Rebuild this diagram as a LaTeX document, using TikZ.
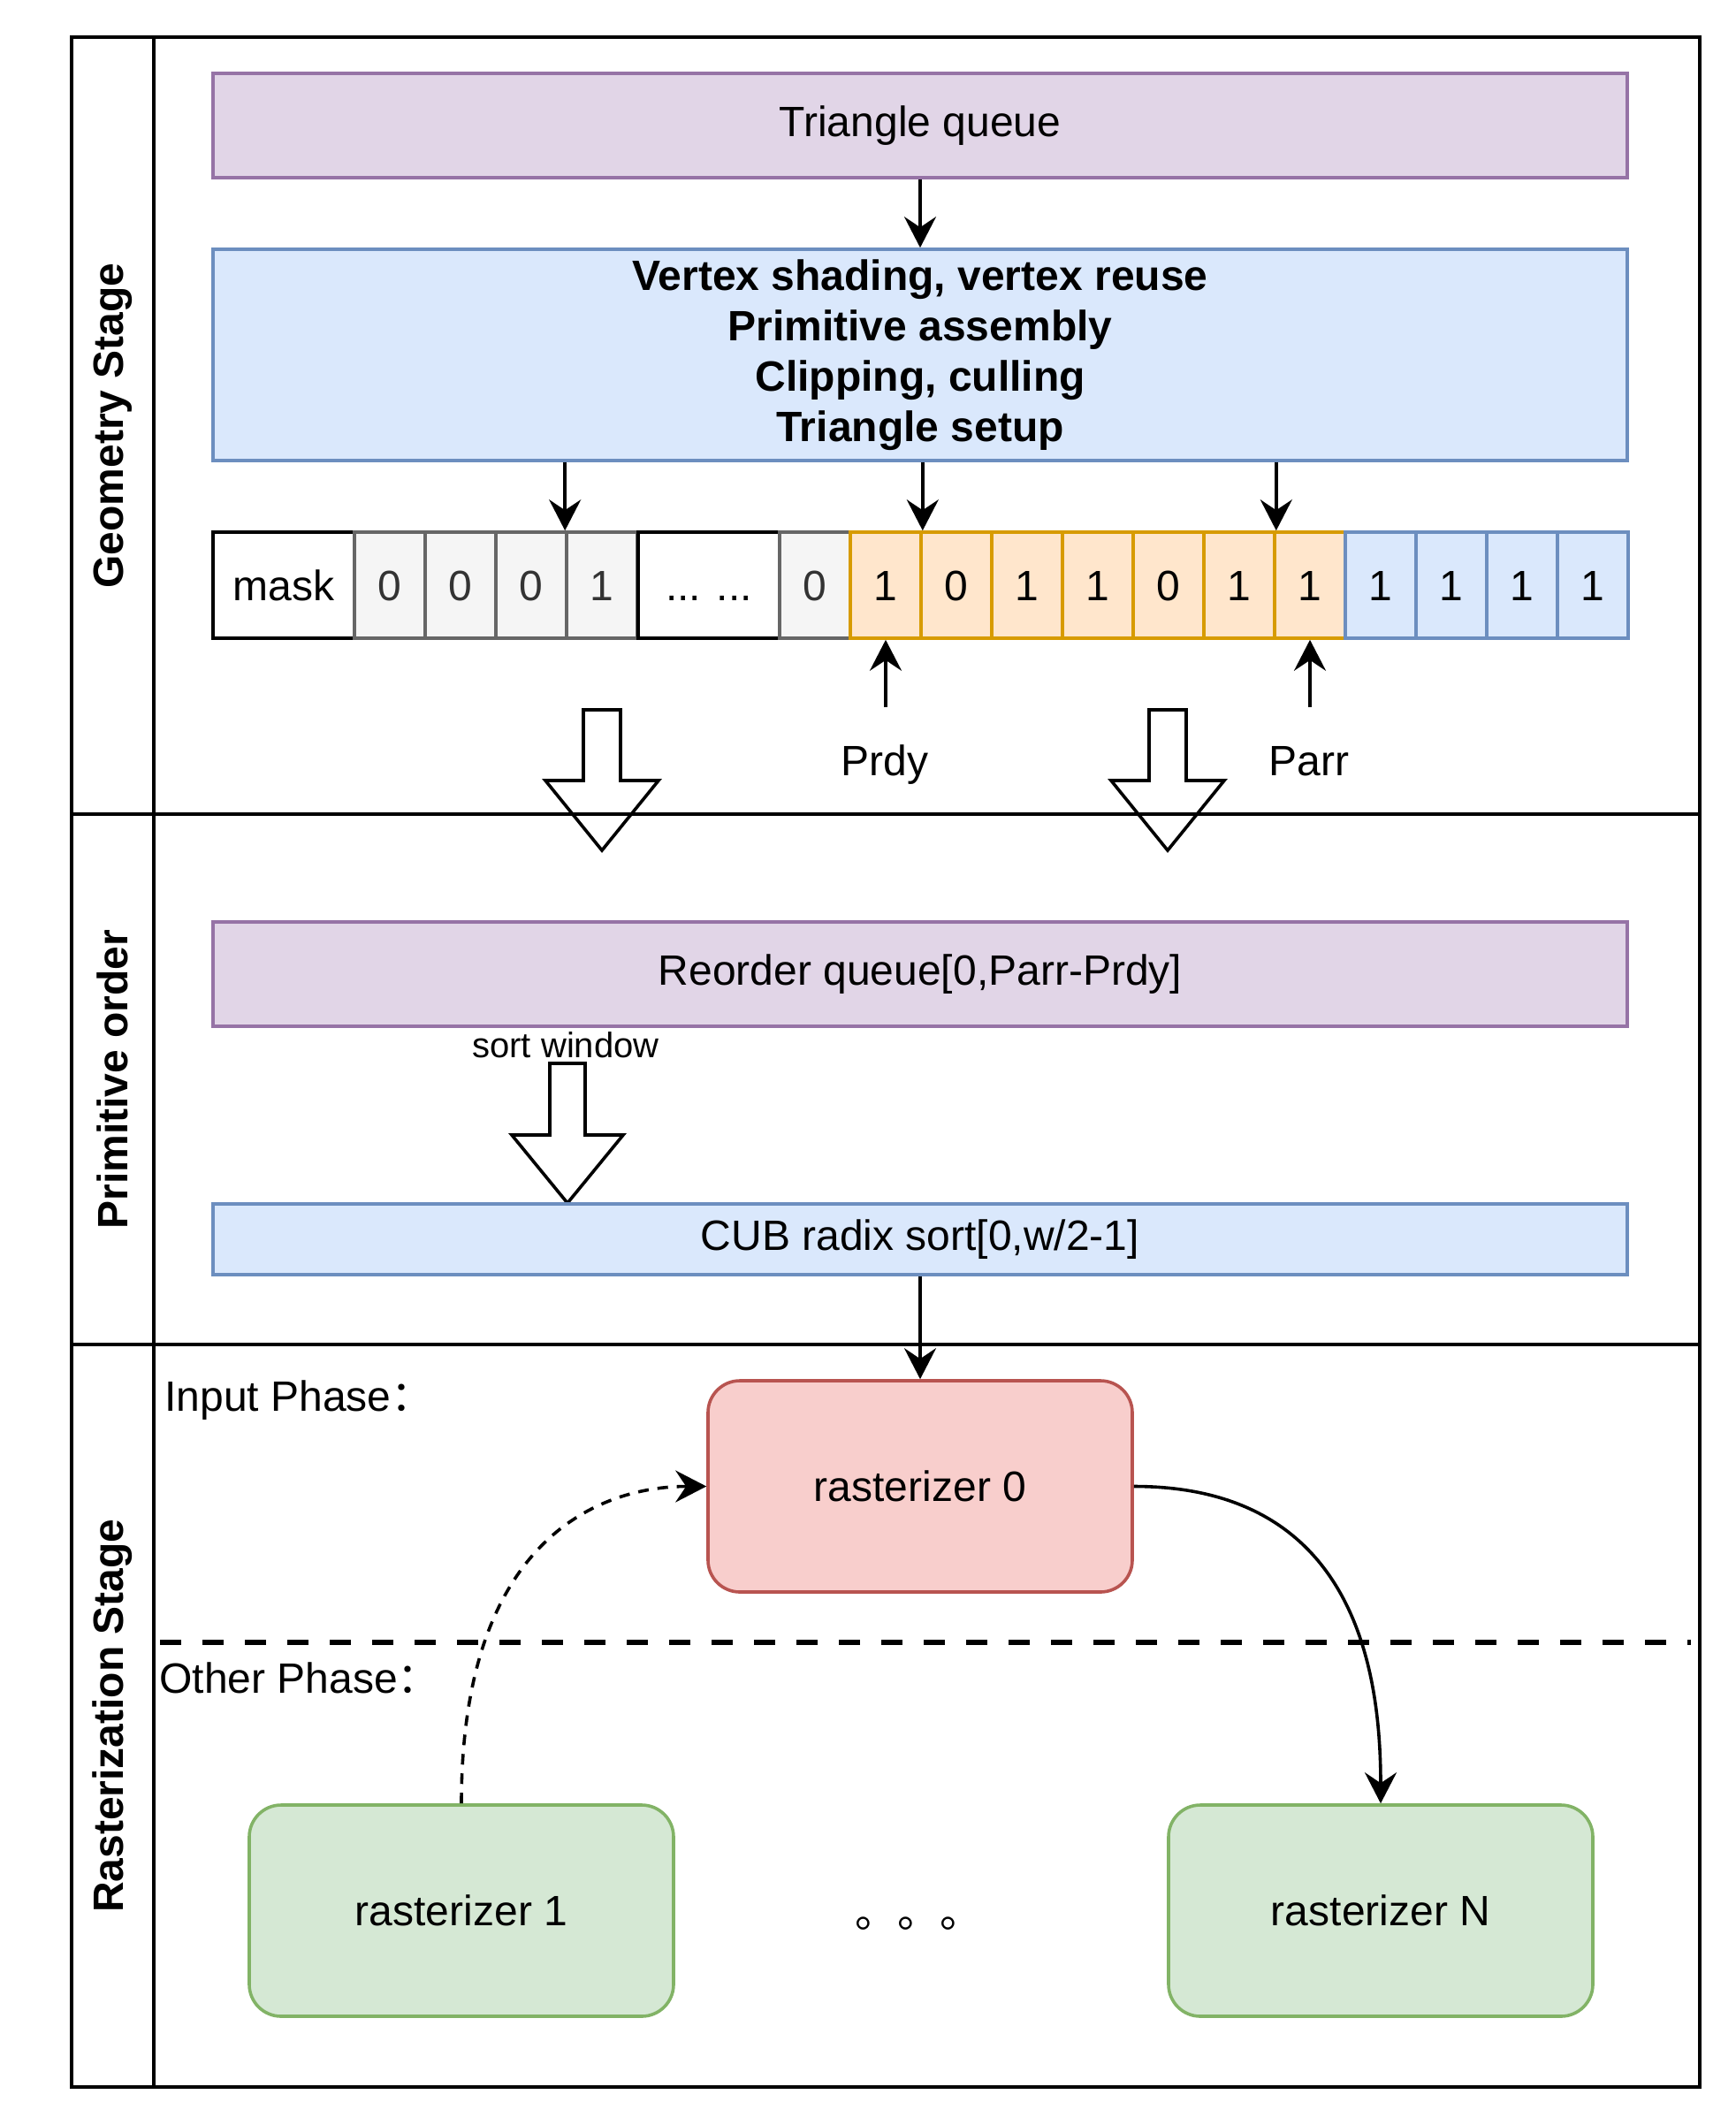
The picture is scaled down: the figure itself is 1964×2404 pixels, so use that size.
\documentclass[tikz,border=0pt]{standalone}
\usepackage{fontspec}
\setmainfont{Liberation Sans}
\newfontfamily\cjk{Noto Sans CJK SC}
\usetikzlibrary{arrows.meta,calc}

\definecolor{purpleFill}{HTML}{E1D5E7}
\definecolor{purpleLine}{HTML}{9673A6}
\definecolor{blueFill}{HTML}{DAE8FC}
\definecolor{blueLine}{HTML}{6C8EBF}
\definecolor{orangeFill}{HTML}{FFE6CC}
\definecolor{orangeLine}{HTML}{D79B00}
\definecolor{greyFill}{HTML}{F5F5F5}
\definecolor{greyLine}{HTML}{666666}
\definecolor{greyText}{HTML}{333333}
\definecolor{redFill}{HTML}{F8CECC}
\definecolor{redLine}{HTML}{B85450}
\definecolor{greenFill}{HTML}{D5E8D4}
\definecolor{greenLine}{HTML}{82B366}

\tikzset{
  every node/.style={inner sep=0pt, font=\fontsize{24}{28.8}\selectfont},
  frame/.style={line width=1.8pt},
  lanelabel/.style={rotate=90, font=\fontsize{24}{28.8}\selectfont\bfseries},
  queuebox/.style={draw=purpleLine, fill=purpleFill, line width=1.8pt, minimum width=800pt, minimum height=59pt},
  stagebox/.style={draw=blueLine, fill=blueFill, line width=1.8pt, minimum width=800pt, align=center},
  cell/.style={line width=1.8pt, minimum width=40pt, minimum height=60pt, text height=17.2pt, text depth=0pt},
  plaincell/.style={cell, draw=black, fill=white},
  greycell/.style={cell, draw=greyLine, fill=greyFill, text=greyText},
  orangecell/.style={cell, draw=orangeLine, fill=orangeFill},
  bluecell/.style={cell, draw=blueLine, fill=blueFill},
  rastbox/.style={line width=1.8pt, rounded corners=18pt, minimum width=240pt, minimum height=119.5pt},
  link/.style={line width=1.8pt, -{Stealth[length=17.5pt, width=18pt, inset=6pt]}},
  hollow/.style={line width=1.8pt},
}

\begin{document}
\begin{tikzpicture}[x=0.5pt, y=-0.5pt]
  \useasboundingbox (0,0) rectangle (1964,2404);
  % lanes
  \draw[frame] (81,42) rectangle (1923,2361);
  \draw[frame] (174,42) -- (174,2361);
  \draw[frame] (81,921) -- (1923,921);
  \draw[frame] (81,1521) -- (1923,1521);
  \node[lanelabel] at (127.5,481.5) {Geometry Stage};
  \node[lanelabel] at (127.5,1221) {Primitive order};
  \node[lanelabel] at (127.5,1941) {Rasterization Stage};

  % geometry stage
  \node[queuebox] (tq) at (1041,142) {Triangle queue};
  \node[stagebox, minimum height=119.5pt, font=\fontsize{24}{28.6}\selectfont\bfseries] (vs) at (1041,401.5)
    {Vertex shading, vertex reuse\\Primitive assembly\\Clipping, culling\\Triangle setup};
  \draw[link] (tq) -- (vs);

  % mask row
  \node[plaincell, minimum width=80pt] (mask) at (321,662) {mask};
  \foreach \v [count=\i] in {0,0,0,1}
    \node[greycell] (g\i) at (361+80*\i,662) {\v};
  \node[plaincell, minimum width=80pt] (dots) at (802,662) {... ...};
  \node[greycell] (g5) at (922,662) {0};
  \foreach \v [count=\i] in {1,0,1,1,0,1,1}
    \node[orangecell] (o\i) at (922+80*\i,662) {\v};
  \foreach \i in {1,...,4}
    \node[bluecell] (b\i) at (1482+80*\i,662) {1};

  \draw[link] (vs.south -| g4.north west) -- (g4.north west);
  \draw[link] (vs.south -| o1.north east) -- (o1.north east);
  \draw[link] (vs.south -| o6.north east) -- (o6.north east);

  \node[anchor=base] (prdy) at (1001,877) {Prdy};
  \node[anchor=base] (parr) at (1481,877) {Parr};
  \coordinate (prdyTail) at (1002,800);
  \coordinate (parrTail) at (1482,800);
  \draw[link] (prdyTail) -- (o1.south);
  \draw[link] (parrTail) -- (o7.south);

  \draw[hollow] (660,803) -- (702,803) -- (702,883) -- (745,883) -- (681,962) -- (617,883) -- (660,883) -- cycle;
  \draw[hollow] (1300,803) -- (1342,803) -- (1342,883) -- (1385,883) -- (1321,962) -- (1257,883) -- (1300,883) -- cycle;

  % primitive order
  \node[queuebox] (rq) at (1041,1102) {Reorder queue[0,Parr-Prdy]};
  \node[font=\fontsize{20}{24}\selectfont] (sw) at (640,1182) {sort window};
  \draw[hollow] (622,1203) -- (662,1203) -- (662,1284) -- (705,1284) -- (642,1361) -- (579,1284) -- (622,1284) -- cycle;
  \node[stagebox, minimum height=40pt] (cub) at (1041,1402) {CUB radix sort[0,w/2-1]};

  % rasterization stage
  \node[anchor=base west] (inph) at (186,1596) {Input Phase\cjk{：}};
  \draw[line width=3.3pt, dash pattern=on 12pt off 12pt] (181,1858) -- (1913,1858);
  \node[anchor=base west] (othph) at (180,1915) {Other Phase\cjk{：}};

  \node[rastbox, draw=redLine, fill=redFill] (r0) at (1041,1681.5) {rasterizer 0};
  \node[rastbox, draw=greenLine, fill=greenFill] (r1) at (522,2161.5) {rasterizer 1};
  \node[rastbox, draw=greenLine, fill=greenFill] (rN) at (1562,2161.5) {rasterizer N};
  \node[anchor=base west] (etc) at (967,2180) {\cjk{。。。}};

  \draw[link] (cub) -- (r0);
  \draw[link, dash pattern=on 6pt off 5pt] (r1.north) .. controls +(0,-300) and +(-120,0) .. (r0.west);
  \draw[link] (r0.east) .. controls +(250,0) and +(0,-150) .. (rN.north);
\end{tikzpicture}
\end{document}
